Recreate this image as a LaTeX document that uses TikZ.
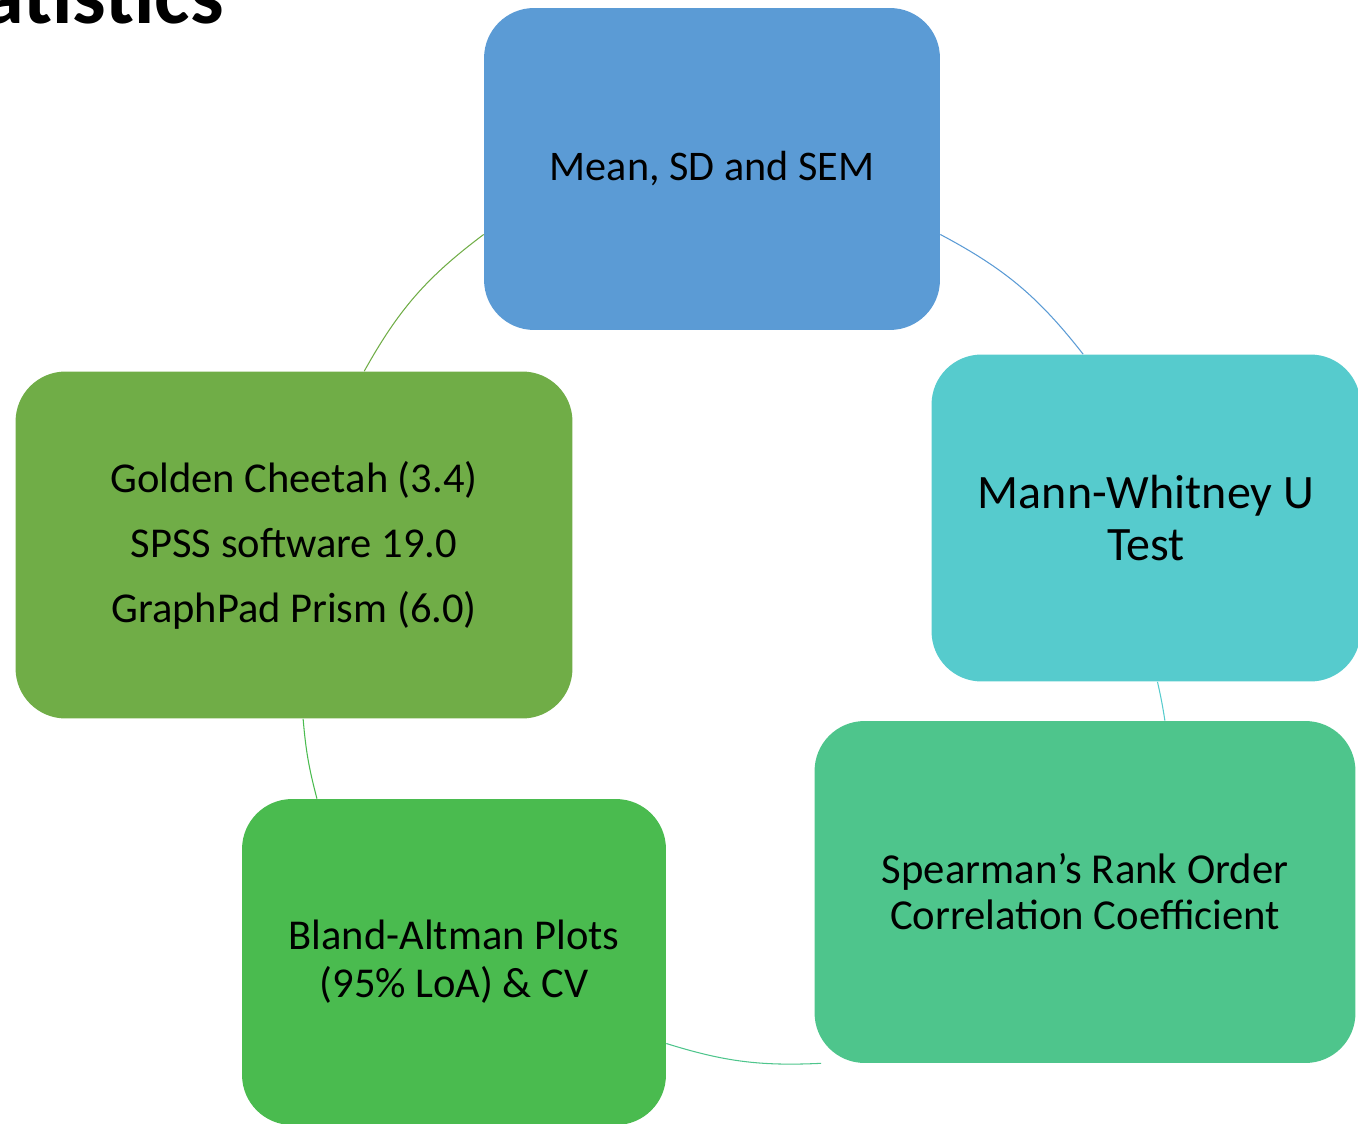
\documentclass[tikz,border=0pt]{standalone}
\usepackage{fontspec}
\setmainfont{Carlito}
\usepackage{tikz}
\usetikzlibrary{positioning}
\definecolor{MeanBlue}{HTML}{5B9BD5}
\definecolor{MannTeal}{HTML}{56CBCD}
\definecolor{RankGreen}{HTML}{4EC58C}
\definecolor{PlotGreen}{HTML}{4ABB4F}
\definecolor{ToolGreen}{HTML}{70AD47}
\tikzset{
  cyclebox/.style={rounded corners=1cm, align=center, text=black, inner sep=0pt},
  cyclelink/.style={line width=0.6pt},
}

\begin{document}
\begin{tikzpicture}[x=0.02cm,y=0.02cm]
\useasboundingbox (0,0) rectangle (1358,-1124);

% heading, cut off by the page edge
\node[anchor=base east,font=\fontsize{48}{48}\selectfont\bfseries] (title) at (230,-24) {Statistics};

% the five steps of the cycle
\node[cyclebox,fill=MeanBlue,minimum width=9.12cm,minimum height=6.44cm,
      font=\fontsize{24}{29}\selectfont] (mean) at (712,-169) {Mean, SD and SEM};
\node[cyclebox,fill=MannTeal,minimum width=8.58cm,minimum height=6.54cm,
      font=\fontsize{27.3}{29.6}\selectfont] (mann) at (1146,-518) {Mann-Whitney U\\Test};
\node[cyclebox,fill=RankGreen,minimum width=10.82cm,minimum height=6.84cm,
      font=\fontsize{24.3}{26.2}\selectfont] (rank) at (1085,-892) {Spearman’s Rank Order\\Correlation Coefficient};
\node[cyclebox,fill=PlotGreen,minimum width=8.48cm,minimum height=6.52cm,
      font=\fontsize{24.2}{27.3}\selectfont] (bland) at (454,-962) {Bland-Altman Plots\\(95\% LoA) \& CV};
\node[cyclebox,fill=ToolGreen,minimum width=11.14cm,minimum height=6.94cm,
      font=\fontsize{24.2}{37}\selectfont] (tools) at (294,-545) {Golden Cheetah (3.4)\\SPSS software 19.0\\GraphPad Prism (6.0)};

% arcs between the steps
\draw[cyclelink,MeanBlue] (mean.-16) to[bend left=12] (mann.111);
\draw[cyclelink,MannTeal] (mann.-86) to[bend left=2] (rank.65);
\draw[cyclelink,RankGreen] (rank.213) to[bend left=10] (bland.-21);
\draw[cyclelink,PlotGreen] (bland.130) to[bend left=5] (tools.-87);
\draw[cyclelink,ToolGreen] (tools.68) to[bend left=12] (mean.196);
\end{tikzpicture}
\end{document}
